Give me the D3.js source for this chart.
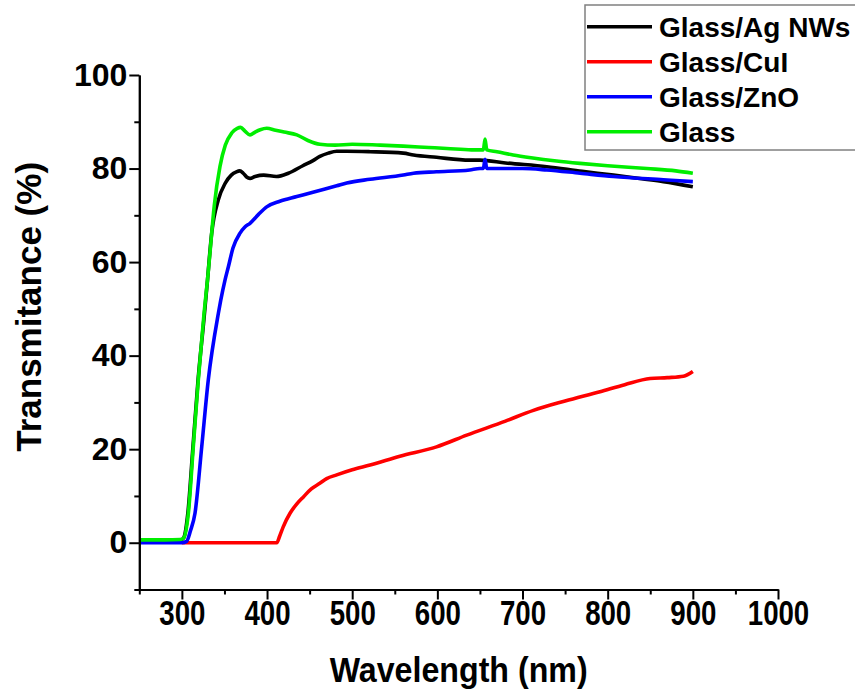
<!DOCTYPE html>
<html>
<head>
<meta charset="utf-8">
<script src="https://cdn.jsdelivr.net/npm/d3@7"></script>
<style>
  body { margin: 0; background: #fff; }
  text { font-family: "Liberation Sans", Arial, sans-serif; font-weight: bold; }
</style>
</head>
<body>
<div id="main"></div>
<script>
const ctx = { w: 855, h: 696 };
const margin = { top: 75, right: 77, bottom: 106.5, left: 139.3 };

// series (wavelength nm, transmittance %)
const seriesNames = ['Glass/Ag NWs', 'Glass/CuI', 'Glass/ZnO', 'Glass'];
const seriesColors = ['#000000', '#ff0000', '#0000ff', '#00ee00'];

const agWl = [250, 280, 298, 302, 307, 313, 319, 326, 330, 335, 342.8, 350.7, 358, 364, 368, 372, 376, 380, 386, 396, 411, 425, 442, 454, 462, 472, 481.8, 493.6, 521, 560, 572, 599, 638, 650, 680, 728.5, 770, 806.8, 840, 865.5, 900];
const agT = [0.3, 0.3, 0.5, 1.0, 6.3, 20.5, 34.8, 48, 56, 66.2, 73.3, 76.8, 78.6, 79.3, 79.5, 79.0, 78.2, 77.9, 78.3, 78.6, 78.3, 79.0, 80.6, 81.7, 82.6, 83.3, 83.7, 83.7, 83.6, 83.3, 82.9, 82.4, 81.8, 81.8, 81.2, 80.4, 79.4, 78.6, 77.8, 77.2, 76.1];

const cuWl = [300, 411.4, 415, 419, 427, 435, 442.7, 452, 462, 470, 481.8, 500, 521, 556, 599, 634.5, 680, 712.8, 750, 791, 820, 849.8, 870, 889, 900];
const cuT = [0, 0, 1.5, 3.4, 6.3, 8.3, 9.8, 11.5, 12.7, 13.7, 14.5, 15.6, 16.6, 18.5, 20.5, 23.0, 26.0, 28.3, 30.3, 32.3, 33.8, 35.1, 35.3, 35.6, 36.6];

const znWl = [250, 280, 300, 305.6, 310, 315.4, 323.3, 331, 342.8, 345.6, 350.7, 354.6, 360, 368.3, 374, 380, 390, 399.6, 415, 435, 455, 481.8, 493.6, 521, 560, 572, 599, 638, 650, 654, 656, 658, 680, 700, 728.5, 767.6, 806.8, 865.5, 900];
const znT = [0, 0, 0, 0.3, 2.5, 6.3, 20.5, 34.8, 49, 51.8, 56.2, 59, 63, 66.2, 67.5, 68.3, 70.2, 71.8, 73.0, 74.0, 75.0, 76.3, 76.9, 77.7, 78.6, 79.0, 79.3, 79.7, 80.0, 80.0, 82.0, 80.0, 80.0, 80.0, 79.7, 79.0, 78.3, 77.6, 77.2];

const glWl = [250, 280, 298, 302, 307.6, 313.4, 319.3, 326, 330, 333, 338, 344.7, 351, 358.5, 365, 369, 374, 380, 386, 392, 399.6, 410, 420, 435, 448, 462, 480, 500, 533, 560, 590, 611, 640, 654, 656, 658, 670, 689, 710, 740, 767.6, 800, 846, 880, 900];
const glT = [0.6, 0.6, 0.7, 1.0, 6.3, 20.5, 34.8, 49, 56, 62, 72, 80.4, 85, 87.6, 88.6, 88.8, 88.0, 87.2, 87.8, 88.3, 88.6, 88.2, 87.8, 87.2, 86.0, 85.2, 85.0, 85.2, 85.0, 84.8, 84.5, 84.3, 84.0, 84.0, 86.3, 84.0, 83.6, 82.9, 82.3, 81.6, 81.1, 80.6, 80.0, 79.5, 79.0];

const xMajor = [300, 400, 500, 600, 700, 800, 900, 1000];
const xMinor = [250, 350, 450, 550, 650, 750, 850, 950];
const yMajor = [0, 20, 40, 60, 80, 100];
const yMinor = [-10, 10, 30, 50, 70, 90];

const allSeries = [
  { name: seriesNames[0], wl: agWl, t: agT },
  { name: seriesNames[1], wl: cuWl, t: cuT },
  { name: seriesNames[2], wl: znWl, t: znT },
  { name: seriesNames[3], wl: glWl, t: glT }
];

const svg = d3.select("#main").append("svg")
    .attr("width", ctx.w)
    .attr("height", ctx.h);

const iw = ctx.w - margin.left - margin.right;
const ih = ctx.h - margin.top - margin.bottom;

const g = svg.append("g")
    .attr("transform", `translate(${margin.left},${margin.top})`);

const x = d3.scaleLinear().domain([250, 1000]).range([0, iw]);
const y = d3.scaleLinear().domain([-10, 100]).range([ih, 0]);

const color = d3.scaleOrdinal().domain(seriesNames).range(seriesColors);

// curves
const line = d3.line()
    .x(d => x(d[0]))
    .y(d => y(d[1]))
    .curve(d3.curveMonotoneX);

allSeries.forEach(s => {
    g.append("path")
        .datum(s.wl.map((w, i) => [w, s.t[i]]))
        .attr("fill", "none")
        .attr("stroke", color(s.name))
        .attr("stroke-width", 3.6)
        .attr("stroke-linejoin", "round")
        .attr("d", line);
});

// axes
function styleAxis(sel) {
    sel.selectAll("path, line").attr("stroke", "#000").attr("stroke-width", 2);
    sel.selectAll("text").attr("fill", "#000");
}

g.append("g")
    .attr("transform", `translate(0,${ih})`)
    .call(d3.axisBottom(x).tickValues(xMinor).tickSize(5).tickSizeOuter(0).tickFormat(""))
    .call(styleAxis);
g.append("g")
    .attr("transform", `translate(0,${ih})`)
    .call(d3.axisBottom(x).tickValues(xMajor).tickSize(10).tickSizeOuter(0).tickPadding(1).tickFormat(d3.format("d")))
    .call(styleAxis)
    .selectAll("text")
        .style("font-size", "35px")
        .attr("transform", "scale(0.79,1)");

g.append("g")
    .call(d3.axisLeft(y).tickValues(yMinor).tickSize(5).tickSizeOuter(0).tickFormat(""))
    .call(styleAxis);
g.append("g")
    .call(d3.axisLeft(y).tickValues(yMajor).tickSize(10).tickSizeOuter(0).tickPadding(2))
    .call(styleAxis)
    .selectAll("text").style("font-size", "32px");

// axis titles
g.append("text")
    .attr("transform", `translate(${iw / 2},${ih + 92}) scale(0.92,1)`)
    .attr("text-anchor", "middle")
    .style("font-size", "35px")
    .text("Wavelength (nm)");

g.append("text")
    .attr("transform", "rotate(-90)")
    .attr("x", -(y(50)) + 2)
    .attr("y", -98)
    .attr("text-anchor", "middle")
    .style("font-size", "35px")
    .text("Transmitance (%)");

// legend
const leg = svg.append("g").attr("transform", "translate(585,5)");
leg.append("rect")
    .attr("width", 300)
    .attr("height", 145)
    .attr("fill", "#fff")
    .attr("stroke", "#808080")
    .attr("stroke-width", 1.5);

const items = leg.selectAll(".legend")
    .data(seriesNames)
    .enter().append("g")
    .attr("class", "legend")
    .attr("transform", (d, i) => `translate(0,${21.7 + i * 35})`);

items.append("line")
    .attr("x1", 2).attr("x2", 67)
    .attr("stroke", d => color(d))
    .attr("stroke-width", 3.5);

items.append("text")
    .attr("x", 74)
    .attr("dy", "0.35em")
    .style("font-size", "28px")
    .text(d => d);
</script>
</body>
</html>
